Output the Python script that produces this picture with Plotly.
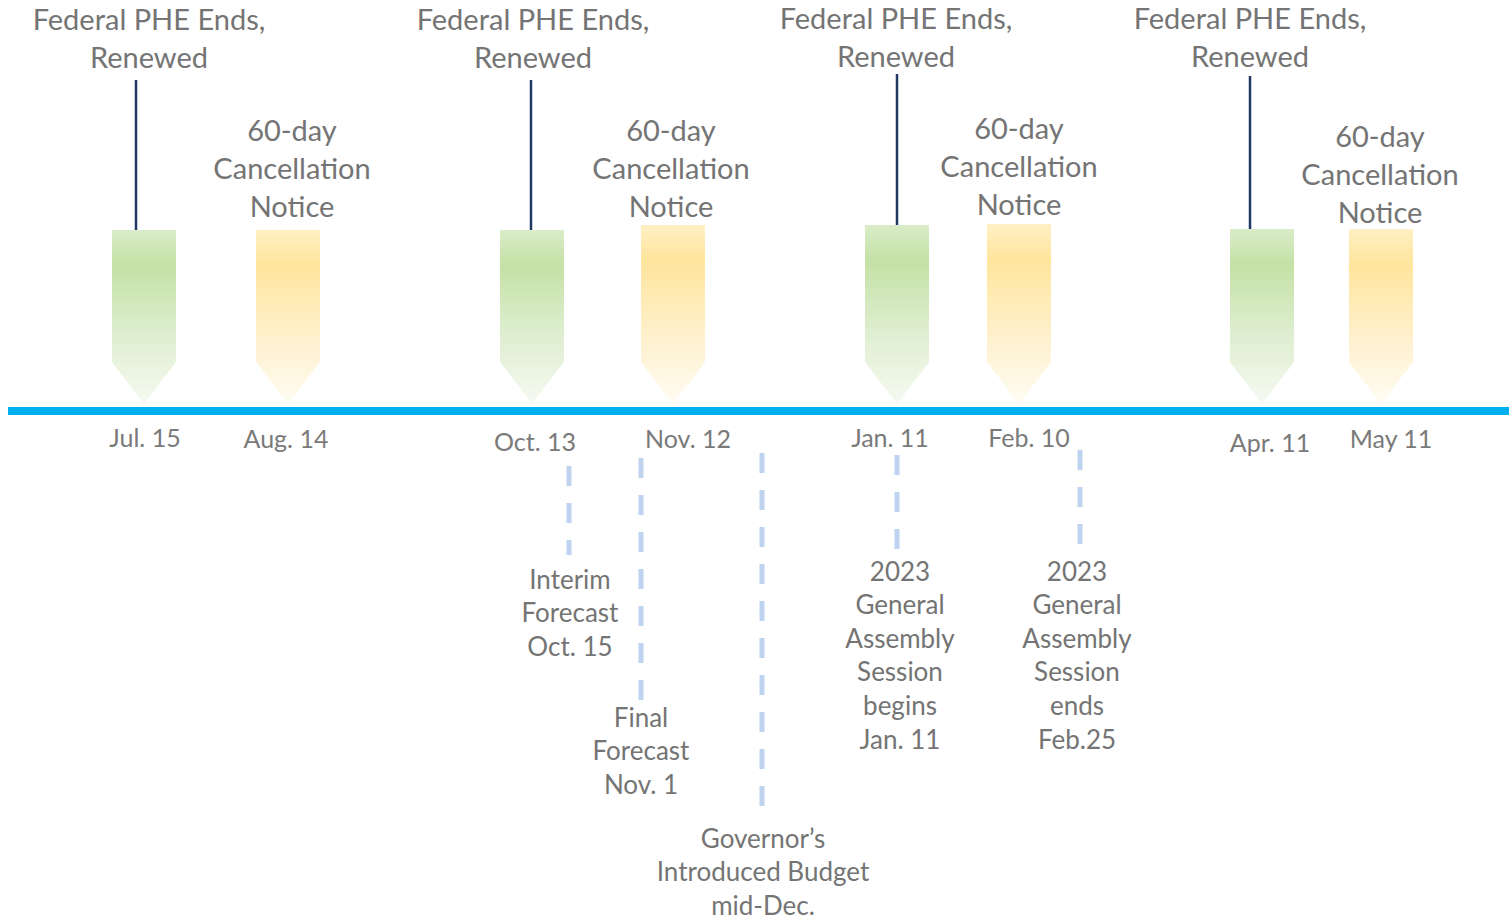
import plotly.graph_objects as go

# PHE end / renewal events (green markers) and 60-day notices (yellow markers)
phe_dates = ["Jul. 15", "Oct. 13", "Jan. 11", "Apr. 11"]
phe_x = [144, 532, 897, 1262]
phe_top = [230, 230, 225, 229]
notice_dates = ["Aug. 14", "Nov. 12", "Feb. 10", "May 11"]
notice_x = [288, 673, 1019, 1381]
notice_top = [230, 225, 224, 229]

phe_label = ["Federal PHE Ends,", "Renewed"]
phe_label_x = [149, 533, 896, 1250]
phe_label_y = [20, 20, 19, 19]
phe_line_x = [136, 531, 897, 1250]
phe_line_top = [80, 80, 74, 76]
notice_label = ["60-day", "Cancellation", "Notice"]
notice_label_x = [292, 671, 1019, 1380]
notice_label_y = [131, 131, 129, 137]

date_label_x = [145, 286, 535, 688, 890, 1029, 1270, 1391]
date_label_y = [438, 439, 442, 439, 438, 438, 443, 439]

# budget / legislative milestones below the line
milestones = [
    ["Interim", "Forecast", "Oct. 15"],
    ["Final", "Forecast", "Nov. 1"],
    ["Governor\u2019s", "Introduced Budget", "mid-Dec."],
    ["2023", "General", "Assembly", "Session", "begins", "Jan. 11"],
    ["2023", "General", "Assembly", "Session", "ends", "Feb.25"],
]
milestone_x = [569, 641, 762, 897, 1080]
milestone_line = [(466, 555), (458, 700), (453, 810), (455, 550), (450, 548)]
milestone_text_x = [570, 641, 763, 900, 1077]
milestone_text_y = [579, 717, 838, 571, 571]

W, H = 1509, 922
AXIS_Y = 411
TXT_DY = 3  # text "middle" sits a little high, nudge down
FONT = "Lato"
GREY = "#747474"
fig = go.Figure()


def add_arrow(xc, top, scale):
    hw, body, tip = 32, 362, 404
    xs = [xc - hw, xc + hw, xc + hw, xc, xc - hw, xc - hw]
    ys = [top, top, body, tip, body, top]
    fig.add_trace(go.Scatter(
        x=xs, y=ys, mode="lines", fill="toself", line=dict(width=0),
        fillgradient=dict(type="vertical", colorscale=scale, start=top, stop=tip),
        hoverinfo="skip", showlegend=False))


def add_lines(xc, y0, lines, size, spacing, color=GREY):
    fig.add_trace(go.Scatter(
        x=[xc] * len(lines), y=[y0 + TXT_DY + i * spacing for i in range(len(lines))],
        mode="text", text=lines, textposition="middle center", cliponaxis=False,
        textfont=dict(family=FONT, size=size, color=color),
        hoverinfo="skip", showlegend=False))


green = [[0, "#d9ecc9"], [0.2, "#c5e1a5"], [0.6, "#deeed0"], [1, "#f6faf2"]]
yellow = [[0, "#fff0c4"], [0.2, "#ffe59c"], [0.6, "#fff0cb"], [1, "#fffcf3"]]

for xc, top in zip(phe_x, phe_top):
    add_arrow(xc, top, green)
for xc, top in zip(notice_x, notice_top):
    add_arrow(xc, top, yellow)

# connector lines from PHE labels down to green markers
for xl, y0, top in zip(phe_line_x, phe_line_top, phe_top):
    fig.add_shape(type="line", x0=xl, x1=xl, y0=y0, y1=top,
                  line=dict(color="#1f3864", width=2.5))

# main timeline
fig.add_shape(type="line", x0=8, x1=W, y0=AXIS_Y, y1=AXIS_Y,
              line=dict(color="#00b0f0", width=8))

for xl, yl in zip(phe_label_x, phe_label_y):
    add_lines(xl, yl, phe_label, 29, 38)
for xl, yl in zip(notice_label_x, notice_label_y):
    add_lines(xl, yl, notice_label, 29, 38)

all_dates = [d for pair in zip(phe_dates, notice_dates) for d in pair]
for d, xl, yl in zip(all_dates, date_label_x, date_label_y):
    add_lines(xl, yl, [d], 25, 0, "#7a7a7a")

for xm, (y0, y1) in zip(milestone_x, milestone_line):
    fig.add_shape(type="line", x0=xm, x1=xm, y0=y0, y1=y1,
                  line=dict(color="#bdd3f0", width=5, dash="20px,17px"))
for lines, xt, yt in zip(milestones, milestone_text_x, milestone_text_y):
    add_lines(xt, yt, lines, 26, 33.6)

fig.update_layout(
    width=W, height=H, margin=dict(l=0, r=0, t=0, b=0),
    plot_bgcolor="white", paper_bgcolor="white",
    xaxis=dict(range=[0, W], visible=False, fixedrange=True),
    yaxis=dict(range=[H, 0], visible=False, fixedrange=True),
    showlegend=False,
)

fig.write_html("out.html", config={"displayModeBar": False},
               post_script="document.body.style.margin='0';")
